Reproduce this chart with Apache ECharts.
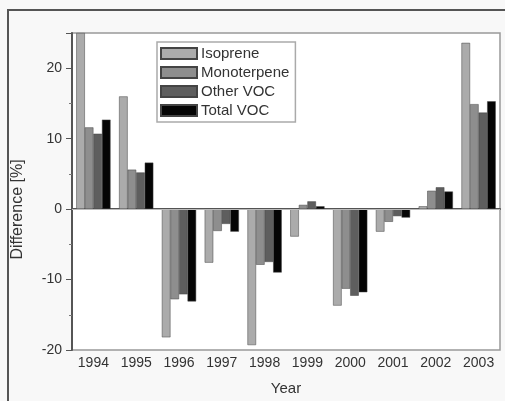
<!DOCTYPE html>
<html><head><meta charset="utf-8">
<script src="https://cdn.jsdelivr.net/npm/echarts@6/dist/echarts.min.js"></script>
<style>
html,body{margin:0;padding:0;background:#f8f8f8;}
#frame{position:absolute;left:7px;top:9px;width:498px;height:392px;border-top:2px solid #555;border-left:2px solid #555;}
#c{position:absolute;left:0;top:0;width:505px;height:401px;}
</style></head>
<body><div id="frame"></div><div id="c"></div>
<script>
const years = ['1994','1995','1996','1997','1998','1999','2000','2001','2002','2003'];
const isoprene    = [25, 16.0, -18.2, -7.6, -19.3, -3.9, -13.7, -3.2, 0.4, 23.6];
const monoterpene = [11.6, 5.6, -12.8, -3.1, -7.9, 0.6, -11.3, -1.8, 2.6, 14.9];
const otherVOC    = [10.7, 5.2, -12.1, -2.1, -7.5, 1.1, -12.3, -1.0, 3.1, 13.7];
const totalVOC    = [12.7, 6.6, -13.1, -3.2, -9.0, 0.4, -11.8, -1.2, 2.5, 15.3];
const seriesNames = ['Isoprene','Monoterpene','Other VOC','Total VOC'];
const colors = ['#ababab','#8e8e8e','#5e5e5e','#050505'];
const yTicks = {min:-20, max:25, interval:10};

const chart = echarts.init(document.getElementById('c'));
const font = 'Liberation Sans, Arial, sans-serif';
const data = [isoprene, monoterpene, otherVOC, totalVOC];
chart.setOption({
  backgroundColor: 'transparent',
  animation: false,
  color: colors,
  grid: {left:72, top:33, right:5, bottom:50, show:true, backgroundColor:'#fff', borderColor:'#999', borderWidth:1.5},
  legend: {
    left:157, top:42, orient:'vertical', itemWidth:36, itemHeight:11, itemGap:4,
    icon:'rect',
    padding:[4,6,4,3], borderColor:'#aaa', borderWidth:1.5, backgroundColor:'#fff',
    textStyle:{fontFamily:font, fontSize:15, color:'#333', padding:[0,0,0,-1]},
    data: seriesNames
  },
  xAxis: {
    type:'category', data: years,
    axisLine:{lineStyle:{color:'#555', width:2}},
    axisTick:{show:false},
    axisLabel:{fontFamily:font, fontSize:14, color:'#333', margin:6},
    name:'Year', nameLocation:'middle', nameGap:31,
    nameTextStyle:{fontFamily:font, fontSize:15, color:'#333'}
  },
  yAxis: {
    type:'value', min:yTicks.min, max:yTicks.max, interval:yTicks.interval,
    axisLine:{show:true, lineStyle:{color:'#555', width:2}},
    axisTick:{show:true, length:6, lineStyle:{color:'#555'}},
    minorTick:{show:true, splitNumber:2, length:3, lineStyle:{color:'#777'}},
    splitLine:{show:false},
    axisLabel:{fontFamily:font, fontSize:14, color:'#333', margin:10, showMaxLabel:false,
      formatter: v => (v % 10 === 0 ? String(v) : '')},
    name:'Difference [%]', nameLocation:'middle', nameGap:46,
    nameTextStyle:{fontFamily:font, fontSize:16, color:'#333', padding:[0,36,0,0], lineHeight:16}
  },
  series: seriesNames.map((n,i)=>({
    name:n, type:'bar', data:data[i], barGap:'0%', barCategoryGap:'20%',
    itemStyle:{color:colors[i], borderColor:'#444', borderWidth:0.5},
    markLine: i===0 ? {silent:true, symbol:'none', label:{show:false},
      lineStyle:{color:'#bbb', width:1, type:'solid'}, data:[{yAxis:0}]} : undefined
  }))
});
</script></body></html>
